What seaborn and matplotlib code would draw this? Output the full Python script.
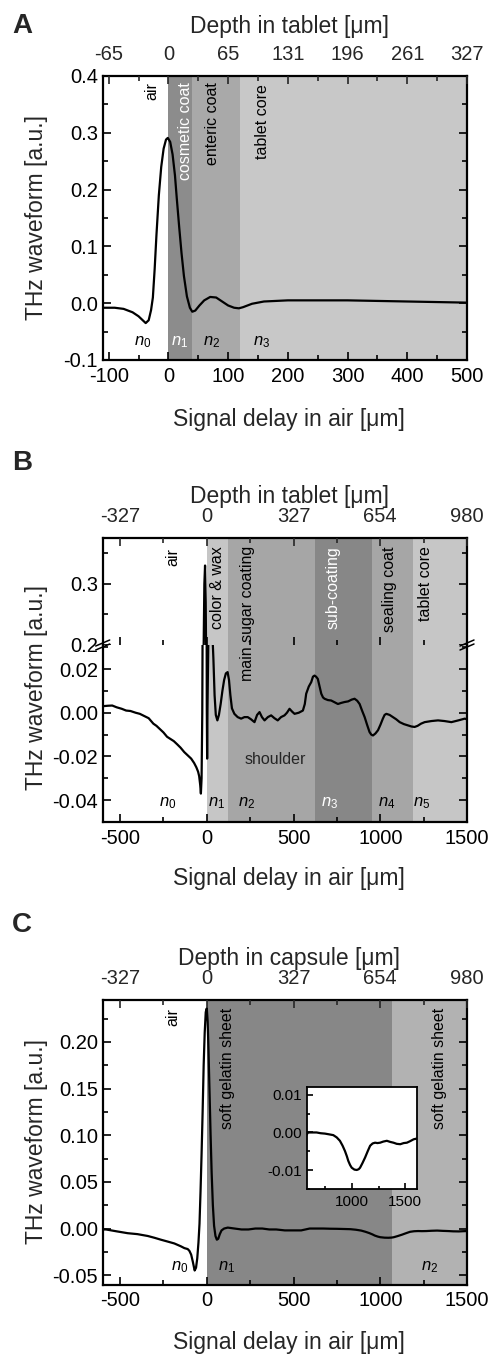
import numpy as np
import pandas as pd
import matplotlib
matplotlib.use("Agg")
import matplotlib.pyplot as plt
import matplotlib.transforms as mtransforms
from matplotlib.ticker import MultipleLocator, FormatStrFormatter
from matplotlib.lines import Line2D
from matplotlib.patches import Polygon
import seaborn as sns

sns.set_style("ticks")
plt.rcParams['font.family'] = ['Liberation Sans', 'DejaVu Sans']
plt.rcParams['axes.unicode_minus'] = False
plt.rcParams['mathtext.fontset'] = 'custom'
plt.rcParams['mathtext.it'] = 'Liberation Sans:italic'
plt.rcParams['mathtext.rm'] = 'Liberation Sans'

# ---------------- data ----------------
# Panel A
A_delay = [-110, -90, -75, -60, -50, -42, -38, -33, -29, -26, -23, -20, -16, -12, -8, -4, -1,
           3, 7, 11, 14, 18, 22, 26, 31, 36, 40, 45, 52, 60, 70, 80, 90, 100, 110, 118, 125,
           140, 160, 200, 250, 300, 350, 400, 450, 500]
A_thz = [-0.008, -0.008, -0.010, -0.016, -0.023, -0.031, -0.035, -0.030, -0.012, 0.010, 0.060,
         0.120, 0.190, 0.240, 0.272, 0.288, 0.291, 0.284, 0.262, 0.225, 0.185, 0.135, 0.088,
         0.048, 0.012, -0.008, -0.015, -0.013, -0.004, 0.005, 0.011, 0.010, 0.003, -0.004,
         -0.008, -0.009, -0.007, -0.001, 0.003, 0.005, 0.005, 0.005, 0.004, 0.003, 0.002, 0.001]
A_band_edges = [0, 40, 120, 500]
A_band_names = ["cosmetic coat", "enteric coat", "tablet core"]
A_top_tick_delay = [-100, 0, 100, 200, 300, 400, 500]
A_top_tick_labels = ["-65", "0", "65", "131", "196", "261", "327"]

# Panel B
B_delay = [-600, -570, -545, -520, -490, -465, -440, -410, -386, -360, -335, -308, -290, -270,
           -250, -229, -210, -190, -170, -151, -130, -110, -90, -73, -60, -50, -44, -38, -34,
           -30, -26, -22, -18, -14, -10, -6, -3, 0, 2, 4, 10, 20, 30, 38, 45, 52, 61, 70, 80,
           90, 100, 110, 120, 128, 136, 145, 159, 178, 198, 217, 236, 255, 275, 290, 304, 318,
           333, 352, 371, 390, 409, 428, 448, 462, 477, 492, 506, 530, 554, 565, 573, 588, 602,
           612, 621, 630, 640, 650, 660, 670, 679, 698, 717, 737, 756, 775, 794, 815, 835, 852,
           867, 881, 895, 910, 924, 938, 948, 958, 972, 987, 1001, 1015, 1025, 1035, 1054,
           1073, 1092, 1112, 1136, 1160, 1180, 1198, 1215, 1235, 1256, 1295, 1333, 1370, 1410,
           1450, 1487, 1500]
B_thz = [0.0030, 0.0032, 0.0033, 0.0025, 0.0018, 0.0010, 0.0008, 0.0000, -0.0005, -0.0015,
         -0.0025, -0.0050, -0.0060, -0.0075, -0.0090, -0.0110, -0.0120, -0.0130, -0.0145,
         -0.0160, -0.0180, -0.0195, -0.0210, -0.0230, -0.0250, -0.0270, -0.0290, -0.0330,
         -0.0370, -0.0300, 0.0000, 0.0800, 0.2000, 0.3000, 0.3300, 0.2700, 0.1200, 0.0020,
         -0.0210, 0.0020, 0.0400, 0.0600, 0.0400, 0.0250, 0.0080, -0.0010, -0.0035, -0.0010,
         0.0040, 0.0100, 0.0150, 0.0180, 0.0186, 0.0150, 0.0080, 0.0020, -0.0005, -0.0020,
         -0.0027, -0.0020, -0.0020, -0.0030, -0.0043, -0.0010, 0.0003, -0.0020, -0.0035,
         -0.0020, -0.0012, -0.0025, -0.0035, -0.0020, -0.0012, 0.0000, 0.0018, 0.0005,
         -0.0005, 0.0000, 0.0010, 0.0040, 0.0087, 0.0120, 0.0140, 0.0165, 0.0170, 0.0165,
         0.0155, 0.0120, 0.0087, 0.0070, 0.0064, 0.0058, 0.0056, 0.0048, 0.0040, 0.0045,
         0.0049, 0.0052, 0.0060, 0.0064, 0.0055, 0.0040, 0.0010, -0.0020, -0.0055, -0.0088,
         -0.0100, -0.0104, -0.0095, -0.0080, -0.0055, -0.0027, -0.0010, -0.0005, -0.0010,
         -0.0020, -0.0030, -0.0043, -0.0052, -0.0058, -0.0063, -0.0065, -0.0060, -0.0050,
         -0.0043, -0.0038, -0.0035, -0.0038, -0.0043, -0.0035, -0.0027, -0.0030]
B_band_edges = [0, 125, 625, 950, 1190, 1500]
B_band_names = ["color & wax", "main sugar coating", "sub-coating", "sealing coat", "tablet core"]
B_top_tick_delay = [-500, 0, 500, 1000, 1500]
B_top_tick_labels = ["-327", "0", "327", "654", "980"]

# Panel C
C_delay = [-600, -581, -520, -456, -400, -340, -300, -264, -225, -187, -150, -129, -110, -100,
           -90, -80, -70, -62, -55, -48, -42, -36, -30, -24, -18, -12, -6, 0, 5, 10, 16, 22,
           28, 35, 42, 50, 58, 66, 75, 85, 100, 121, 160, 200, 240, 280, 320, 360, 400, 450,
           500, 544, 593, 630, 672, 710, 750, 790, 828, 860, 890, 915, 937, 955, 968, 985,
           1000, 1025, 1047, 1065, 1078, 1100, 1125, 1150, 1172, 1195, 1218, 1240, 1265, 1295,
           1328, 1360, 1390, 1420, 1453, 1485, 1515, 1545, 1578, 1609]
C_thz = [-0.001, -0.001, -0.003, -0.005, -0.006, -0.008, -0.010, -0.012, -0.014, -0.016,
         -0.019, -0.021, -0.022, -0.024, -0.028, -0.036, -0.045, -0.042, -0.032, -0.015,
         0.005, 0.040, 0.080, 0.125, 0.175, 0.210, 0.232, 0.236, 0.222, 0.190, 0.145, 0.100,
         0.060, 0.025, 0.003, -0.008, -0.012, -0.011, -0.006, -0.002, 0.000, 0.001, 0.000,
         -0.001, -0.001, 0.000, 0.000, -0.001, -0.001, -0.002, -0.002, -0.002, 0.0000,
         0.0000, 0.0000, -0.0002, -0.0003, -0.0005, -0.0007, -0.0013, -0.0022, -0.0035,
         -0.0049, -0.0063, -0.0075, -0.0086, -0.0093, -0.0098, -0.0099, -0.0097, -0.0093,
         -0.0081, -0.0066, -0.0049, -0.0035, -0.0029, -0.0027, -0.0028, -0.0027, -0.0024,
         -0.0022, -0.0025, -0.0027, -0.0030, -0.0031, -0.0028, -0.0027, -0.0023, -0.0018,
         -0.0016]
C_band_edges = [0, 1065, 1500]
C_band_names = ["soft gelatin sheet", "soft gelatin sheet"]
C_top_tick_delay = [-500, 0, 500, 1000, 1500]
C_top_tick_labels = ["-327", "0", "327", "654", "980"]

# ---------------- styling ----------------
W, H = 493, 1354
fig = plt.figure(figsize=(W / 100, H / 100), dpi=100)
TICK_FS = 14.5
LABEL_FS = 16.5
BAND_FS = 11.5
N_FS = 12
LW_AX = 1.6
LINE_LW = 1.6

def add_ax(l, t, r, b):
    return fig.add_axes([l / W, 1 - b / H, (r - l) / W, (b - t) / H])

def ftext(x, y, s, **kw):
    fig.text(x / W, 1 - y / H, s, **kw)

def style_ax(ax):
    for sp in ax.spines.values():
        sp.set_linewidth(LW_AX)
        sp.set_color("black")
    ax.tick_params(which="both", direction="in", width=1.2, colors="black",
                   labelsize=TICK_FS, top=False, right=True)
    ax.tick_params(which="major", length=6)
    ax.tick_params(which="minor", length=3.5)
    ax.set_xlabel("")
    ax.set_ylabel("")

def draw_line(ax, x, y):
    df = pd.DataFrame({"delay": x, "thz": y})
    sns.lineplot(data=df, x="delay", y="thz", ax=ax, color="black", lw=LINE_LW,
                 sort=False, estimator=None, legend=False)

def top_axis(ax, pos, labels, minor):
    axt = ax.twiny()
    axt.set_xlim(ax.get_xlim())
    axt.set_xticks(pos)
    axt.set_xticklabels(labels)
    axt.xaxis.set_minor_locator(MultipleLocator(minor))
    axt.tick_params(which="both", direction="in", width=1.2, labelsize=TICK_FS, pad=9)
    axt.tick_params(which="major", length=6)
    axt.tick_params(which="minor", length=3.5)
    for sp in axt.spines.values():
        sp.set_visible(False)
    return axt

def vlabel(ax, x, s, color="black", ypx_top=None, fs=BAND_FS):
    tr = mtransforms.blended_transform_factory(ax.transData, fig.transFigure)
    ax.text(x, 1 - ypx_top / H, s, rotation=90, ha="center", va="top", color=color,
            fontsize=fs, transform=tr, clip_on=False, zorder=30)

def nlabel(ax, x, ypx, idx, color="black"):
    tr = mtransforms.blended_transform_factory(ax.transData, fig.transFigure)
    ax.text(x, 1 - ypx / H, r"$n_{%d}$" % idx, ha="center", va="center", color=color,
            fontsize=N_FS, transform=tr)

# ================= Panel A =================
L, R = 102.7, 467
axA = add_ax(L, 76, R, 360)
A_colors = ["#8c8c8c", "#a9a9a9", "#c8c8c8"]
for i in range(len(A_band_names)):
    axA.axvspan(A_band_edges[i], A_band_edges[i + 1], color=A_colors[i], lw=0, zorder=0)
draw_line(axA, A_delay, A_thz)
axA.set_xlim(-110, 500)
axA.set_ylim(-0.1, 0.4)
axA.xaxis.set_major_locator(MultipleLocator(100))
axA.xaxis.set_minor_locator(MultipleLocator(50))
axA.yaxis.set_major_locator(MultipleLocator(0.1))
axA.yaxis.set_minor_locator(MultipleLocator(0.05))
axA.yaxis.set_major_formatter(FormatStrFormatter("%.1f"))
style_ax(axA)
axA.tick_params(axis="x", pad=5)
top_axis(axA, A_top_tick_delay, A_top_tick_labels, 50)

vlabel(axA, -28, "air", ypx_top=82)
vlabel(axA, 29, A_band_names[0], color="white", ypx_top=82)
vlabel(axA, 74, A_band_names[1], ypx_top=82)
vlabel(axA, 158, A_band_names[2], ypx_top=84)
for x, i, c in [(-43, 0, "black"), (19, 1, "white"), (73, 2, "black"), (156, 3, "black")]:
    nlabel(axA, x, 342, i, c)

ftext(12, 26, "A", fontsize=20, fontweight="bold", ha="left", va="center")
ftext(289, 26, "Depth in tablet [μm]", fontsize=LABEL_FS, ha="center", va="center")
ftext(289, 420, "Signal delay in air [μm]", fontsize=LABEL_FS, ha="center", va="center")
ftext(37, 218, "THz waveform [a.u.]", fontsize=LABEL_FS, ha="center", va="center", rotation=90)

# ================= Panel B =================
B_colors = ["#c6c6c6", "#a6a6a6", "#878787", "#a6a6a6", "#c6c6c6"]
axBt = add_ax(L, 538, R, 645)
axBb = add_ax(L, 645, R, 822)
for ax in (axBt, axBb):
    for i in range(len(B_band_names)):
        ax.axvspan(B_band_edges[i], B_band_edges[i + 1], color=B_colors[i], lw=0, zorder=0)
    draw_line(ax, B_delay, B_thz)
    ax.set_xlim(-600, 1500)
    ax.xaxis.set_major_locator(MultipleLocator(500))
    ax.xaxis.set_minor_locator(MultipleLocator(250))
    style_ax(ax)
axBt.set_ylim(0.2, 0.375)
axBt.yaxis.set_major_locator(MultipleLocator(0.1))
axBt.yaxis.set_minor_locator(MultipleLocator(0.05))
axBt.yaxis.set_major_formatter(FormatStrFormatter("%.1f"))
axBt.spines["bottom"].set_visible(False)
axBt.tick_params(axis="x", which="both", bottom=False, labelbottom=False)
axBb.set_ylim(-0.05, 0.031)
axBb.yaxis.set_major_locator(MultipleLocator(0.02))
axBb.yaxis.set_minor_locator(MultipleLocator(0.01))
axBb.yaxis.set_major_formatter(FormatStrFormatter("%.2f"))
axBb.spines["top"].set_visible(False)
axBb.tick_params(axis="x", pad=5)
top_axis(axBt, B_top_tick_delay, B_top_tick_labels, 250)

# break marks
for xb in (L, R):
    yb = 645
    for dy in (0, 4):
        fig.lines.append(Line2D([(xb - 7), (xb + 7)], [H - (yb + 1 + dy), H - (yb - 5 + dy)],
                                transform=mtransforms.IdentityTransform(), color="black",
                                lw=1.1, zorder=21))

vlabel(axBb, -195, "air", ypx_top=548)
vlabel(axBb, 63, B_band_names[0], ypx_top=546)
vlabel(axBb, 236, B_band_names[1], ypx_top=546)
vlabel(axBb, 729, B_band_names[2], color="white", ypx_top=546)
vlabel(axBb, 1056, B_band_names[3], ypx_top=546)
vlabel(axBb, 1258, B_band_names[4], ypx_top=546)
trB = mtransforms.blended_transform_factory(axBb.transData, fig.transFigure)
axBb.text(393, 1 - 760 / H, "shoulder", ha="center", va="center", fontsize=BAND_FS, transform=trB)
for x, i, c in [(-224, 0, "black"), (57, 1, "black"), (230, 2, "black"),
                (710, 3, "white"), (1037, 4, "black"), (1239, 5, "black")]:
    nlabel(axBb, x, 803, i, c)

ftext(12, 463, "B", fontsize=20, fontweight="bold", ha="left", va="center")
ftext(289, 497, "Depth in tablet [μm]", fontsize=LABEL_FS, ha="center", va="center")
ftext(289, 878, "Signal delay in air [μm]", fontsize=LABEL_FS, ha="center", va="center")
ftext(37, 687, "THz waveform [a.u.]", fontsize=LABEL_FS, ha="center", va="center", rotation=90)

# ================= Panel C =================
C_colors = ["#878787", "#b2b2b2"]
axC = add_ax(L, 1000, R, 1284.5)
for i in range(len(C_band_names)):
    axC.axvspan(C_band_edges[i], C_band_edges[i + 1], color=C_colors[i], lw=0, zorder=0)
draw_line(axC, C_delay, C_thz)
axC.set_xlim(-600, 1500)
axC.set_ylim(-0.06, 0.245)
axC.xaxis.set_major_locator(MultipleLocator(500))
axC.xaxis.set_minor_locator(MultipleLocator(250))
axC.yaxis.set_major_locator(MultipleLocator(0.05))
axC.yaxis.set_minor_locator(MultipleLocator(0.025))
axC.yaxis.set_major_formatter(FormatStrFormatter("%.2f"))
style_ax(axC)
axC.tick_params(axis="x", pad=5)
top_axis(axC, C_top_tick_delay, C_top_tick_labels, 250)

vlabel(axC, -195, "air", ypx_top=1008)
vlabel(axC, 122, C_band_names[0], ypx_top=1008)
vlabel(axC, 1344, C_band_names[1], ypx_top=1008)
for x, i in [(-155, 0), (114, 1), (1287, 2)]:
    nlabel(axC, x, 1267, i)

# inset
axI = add_ax(306.7, 1087, 417.3, 1189.3)
axI.set_facecolor("white")
draw_line(axI, C_delay, C_thz)
axI.set_xlim(580, 1612)
axI.set_ylim(-0.015, 0.012)
axI.xaxis.set_major_locator(MultipleLocator(500))
axI.xaxis.set_minor_locator(MultipleLocator(250))
axI.yaxis.set_major_locator(MultipleLocator(0.01))
axI.yaxis.set_minor_locator(MultipleLocator(0.005))
axI.yaxis.set_major_formatter(FormatStrFormatter("%.2f"))
style_ax(axI)
axI.tick_params(which="both", labelsize=11, right=False)
axI.tick_params(which="major", length=4.5)
axI.tick_params(which="minor", length=2.5)
axI.tick_params(axis="x", pad=4)
for sp in axI.spines.values():
    sp.set_linewidth(1.3)

ftext(12, 925, "C", fontsize=20, fontweight="bold", ha="left", va="center")
ftext(289, 958, "Depth in capsule [μm]", fontsize=LABEL_FS, ha="center", va="center")
ftext(289, 1343, "Signal delay in air [μm]", fontsize=LABEL_FS, ha="center", va="center")
ftext(37, 1142, "THz waveform [a.u.]", fontsize=LABEL_FS, ha="center", va="center", rotation=90)

fig.savefig("out.png", dpi=100)
